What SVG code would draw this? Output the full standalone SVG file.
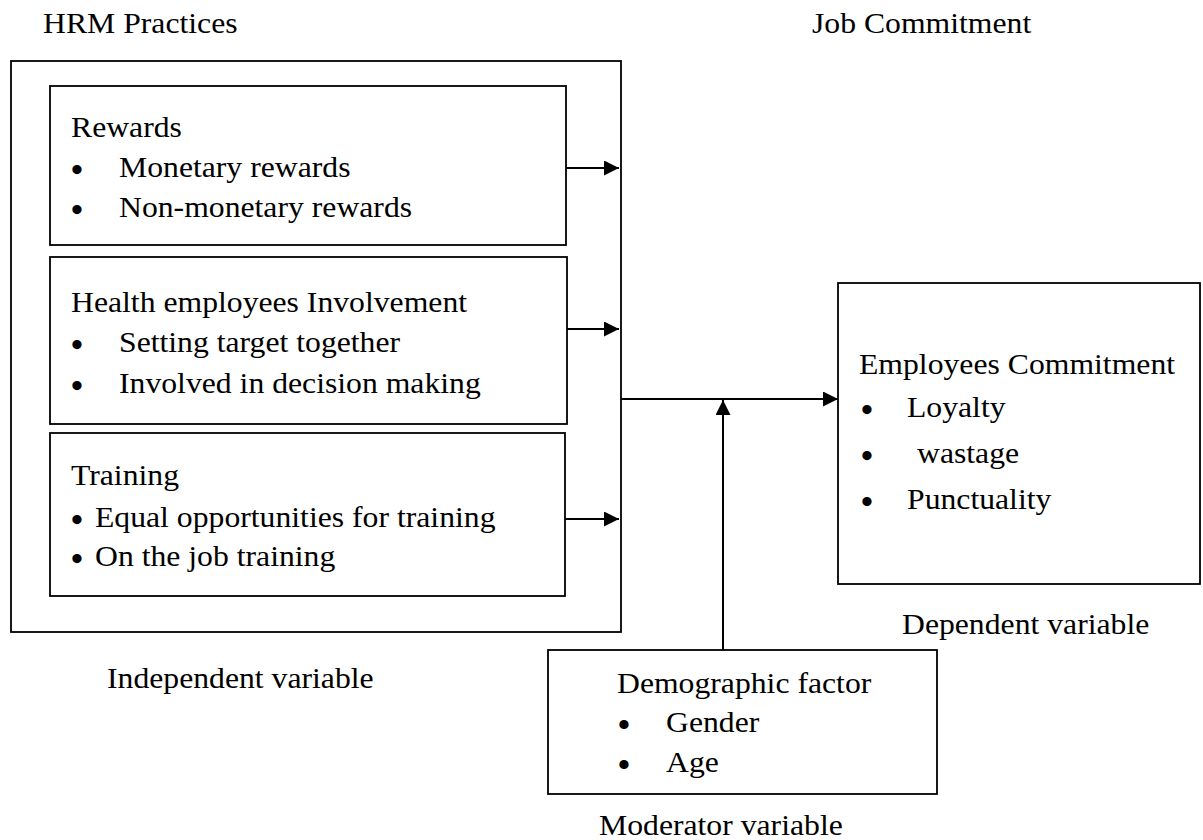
<svg xmlns="http://www.w3.org/2000/svg" width="1203" height="840" viewBox="0 0 1203 840">
  <style>
    text { font-family: "Liberation Serif", "Times New Roman", serif; font-size: 29.5px; fill: #000; }
    .box { fill: #fff; stroke: #000; stroke-width: 1.8; }
    .link { fill: none; stroke: #000; stroke-width: 2; }
    .dot { text-anchor: middle; font-size: 34px; font-weight: bold; }
  </style>
  <defs>
    <marker id="head" viewBox="0 0 15 15" refX="15" refY="7.5" markerWidth="15" markerHeight="15" markerUnits="userSpaceOnUse" orient="auto">
      <path d="M0,0 L15,7.5 L0,15 Z" fill="#000"/>
    </marker>
  </defs>
  <rect width="1203" height="840" fill="#fff"/>

  <!-- headings -->
  <text transform="translate(43 33) scale(1.075 1)">HRM Practices</text>
  <text transform="translate(812 33) scale(1.075 1)">Job Commitment</text>

  <!-- independent variable group -->
  <g id="hrm-practices">
    <rect class="box" x="11" y="61" width="610" height="571"/>
    <text transform="translate(107 688) scale(1.075 1)">Independent variable</text>
  </g>

  <g id="rewards">
    <rect class="box" x="50" y="86" width="516" height="159"/>
    <text transform="translate(71 137) scale(1.075 1)">Rewards</text>
    <text class="dot" x="77" y="181">•</text>
    <text transform="translate(119 177) scale(1.075 1)">Monetary rewards</text>
    <text class="dot" x="77" y="221">•</text>
    <text transform="translate(119 217) scale(1.075 1)">Non-monetary rewards</text>
  </g>

  <g id="involvement">
    <rect class="box" x="50" y="257" width="517" height="167"/>
    <text transform="translate(71 312) scale(1.075 1)">Health employees Involvement</text>
    <text class="dot" x="77" y="356">•</text>
    <text transform="translate(119 352) scale(1.075 1)">Setting target together</text>
    <text class="dot" x="77" y="397">•</text>
    <text transform="translate(119 393) scale(1.075 1)">Involved in decision making</text>
  </g>

  <g id="training">
    <rect class="box" x="50" y="433" width="515" height="163"/>
    <text transform="translate(71 485) scale(1.075 1)">Training</text>
    <text class="dot" x="77" y="531">•</text>
    <text transform="translate(95 527) scale(1.075 1)">Equal opportunities for training</text>
    <text class="dot" x="77" y="570">•</text>
    <text transform="translate(95 566) scale(1.075 1)">On the job training</text>
  </g>

  <g id="employees-commitment">
    <rect class="box" x="838" y="283" width="362" height="301"/>
    <text transform="translate(859 374) scale(1.075 1)">Employees Commitment</text>
    <text class="dot" x="867" y="421">•</text>
    <text transform="translate(907 417) scale(1.075 1)">Loyalty</text>
    <text class="dot" x="867" y="467">•</text>
    <text transform="translate(917 463) scale(1.075 1)">wastage</text>
    <text class="dot" x="867" y="513">•</text>
    <text transform="translate(907 509) scale(1.075 1)">Punctuality</text>
    <text transform="translate(902 634) scale(1.075 1)">Dependent variable</text>
  </g>

  <g id="demographic-factor">
    <rect class="box" x="548" y="650" width="389" height="144"/>
    <text transform="translate(617 693) scale(1.075 1)">Demographic factor</text>
    <text class="dot" x="624" y="736">•</text>
    <text transform="translate(666 732) scale(1.075 1)">Gender</text>
    <text class="dot" x="624" y="776">•</text>
    <text transform="translate(666 772) scale(1.075 1)">Age</text>
    <text transform="translate(599 835) scale(1.075 1)">Moderator variable</text>
  </g>

  <!-- connectors -->
  <g id="connectors">
    <line class="link" x1="566" y1="168" x2="619" y2="168" marker-end="url(#head)"/>
    <line class="link" x1="567" y1="329" x2="619" y2="329" marker-end="url(#head)"/>
    <line class="link" x1="565" y1="519" x2="619" y2="519" marker-end="url(#head)"/>
    <line class="link" x1="621" y1="399" x2="838" y2="399" marker-end="url(#head)"/>
    <line class="link" x1="723" y1="650" x2="723" y2="400" marker-end="url(#head)"/>
  </g>
</svg>
